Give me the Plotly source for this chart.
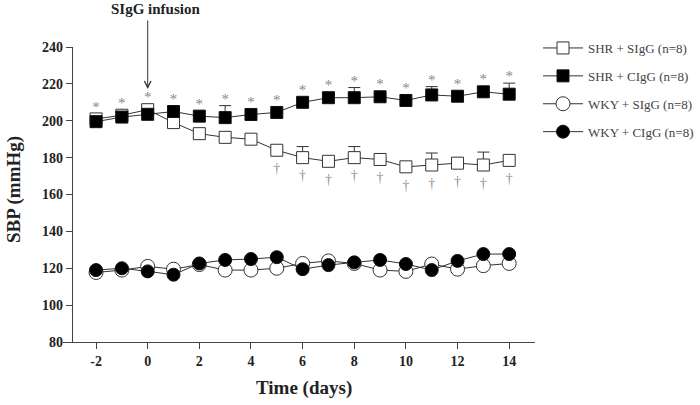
import plotly.graph_objects as go

days = list(range(-2, 15))
shr_sigg = [201, 203, 206, 199, 193, 191, 190, 184, 180, 178, 180, 179, 175, 176, 177, 176, 178.5]
shr_sigg_err = [0, 0, 0, 0, 0, 0, 0, 0, 6, 0, 6, 0, 0, 6.5, 0, 7, 0]
shr_cigg = [199.5, 202, 203.5, 205, 202.5, 201.7, 203.4, 204.5, 210, 212.5, 212.5, 213, 211, 214, 213.3, 215.7, 214.4]
shr_cigg_err = [0, 0, 0, 0, 0, 6.5, 0, 0, 0, 0, 5.5, 0, 0, 4.5, 0, 0, 6]
wky_sigg = [117.7, 119, 121, 119.5, 122, 119, 119, 120, 122.6, 124, 122.6, 119, 118.3, 122.3, 119.5, 121.4, 122.6]
wky_cigg = [119, 120, 118.3, 116.5, 122.6, 124.5, 125, 126, 119.5, 121.7, 123.2, 124.5, 122.3, 119, 124, 127.7, 127.7]
star_days = days
dagger_days = list(range(5, 15))
names = ["SHR + SIgG (n=8)", "SHR + CIgG (n=8)", "WKY + SIgG (n=8)", "WKY + CIgG (n=8)"]
xticks = list(range(-2, 15, 2))
yticks = list(range(80, 241, 20))

FONT = "Liberation Serif"
LINE = "#333333"
XMIN, XMAX = -3.28, 15.0
YAX_X = -2.93
PW, PH = 472, 295
L, T = 63, 47
R = 700 - L - PW
B = 405 - T - PH

def px_x(p):  # target pixel -> paper x
    return (p - L) / PW

def px_y(p):  # target pixel -> paper y
    return (T + PH - p) / PH

fig = go.Figure()

def add_series(y, err, name, symbol, fill, size, group):
    kw = {}
    if err is not None:
        kw["error_y"] = dict(type="data", array=err, symmetric=False, arrayminus=[0] * len(err),
                             color=LINE, thickness=1, width=6)
    fig.add_trace(go.Scatter(
        x=days, y=y, name=name, mode="lines+markers", legendgroup=group,
        line=dict(color=LINE, width=1),
        marker=dict(symbol=symbol, size=size, color=fill,
                    line=dict(color=LINE if fill == "white" else "#111", width=1)),
        **kw))

add_series(shr_sigg, shr_sigg_err, names[0], "square", "white", 12, "g1")
add_series(shr_cigg, shr_cigg_err, names[1], "square", "black", 12, "g2")
add_series(wky_sigg, None, names[2], "circle", "white", 14, "g3")
add_series(wky_cigg, None, names[3], "circle", "black", 13, "g4")

# significance symbols
star_y = []
for i, d in enumerate(days):
    base = max(shr_sigg[i], shr_cigg[i])
    star_y.append(max(base + 6, shr_cigg[i] + shr_cigg_err[i] + 3))
fig.add_trace(go.Scatter(x=star_days, y=star_y, mode="text", text=["*"] * len(star_days),
                         textfont=dict(family=FONT, size=15, color="#888888"), showlegend=False,
                         hoverinfo="skip"))
dag_y = [shr_sigg[days.index(d)] - 10.5 for d in dagger_days]
fig.add_trace(go.Scatter(x=dagger_days, y=dag_y, mode="text", text=["†"] * len(dagger_days),
                         textfont=dict(family=FONT, size=14, color="#909090"), showlegend=False,
                         hoverinfo="skip"))

# y-axis line extension below x axis
fig.add_shape(type="line", xref="x", yref="y", x0=YAX_X, x1=YAX_X, y0=80, y1=76.3,
              line=dict(color="#444", width=1.3))

pxu = PH / 160.0
tip_val = 240 - (89 - 47) / pxu
fig.add_annotation(x=0, y=tip_val, xref="x", yref="y", text="", showarrow=True,
                   ax=0, ay=-70, arrowhead=5, arrowsize=1.3, arrowwidth=1, arrowcolor="#333",
                   standoff=0)
fig.add_annotation(x=px_x(155), y=px_y(9), xref="paper", yref="paper",
                   xanchor="center", yanchor="middle",
                   text="<b>SIgG infusion</b>", showarrow=False,
                   font=dict(family=FONT, size=15, color="#222"))
fig.add_annotation(x=px_x(304), y=px_y(388), xref="paper", yref="paper",
                   xanchor="center", yanchor="middle",
                   text="<b>Time (days)</b>", showarrow=False,
                   font=dict(family=FONT, size=19, color="#222"))
fig.add_annotation(x=px_x(14), y=px_y(190), xref="paper", yref="paper",
                   xanchor="center", yanchor="middle",
                   text="<b>SBP (mmHg)</b>", showarrow=False, textangle=-90,
                   font=dict(family=FONT, size=19, color="#222"))

fig.update_layout(
    width=700, height=405,
    margin=dict(l=L, r=R, t=T, b=B, autoexpand=False),
    paper_bgcolor="white", plot_bgcolor="white",
    font=dict(family=FONT, color="#222"),
    xaxis=dict(range=[XMIN, XMAX], showgrid=False, zeroline=False, showline=True,
               linecolor="#444", linewidth=1.3, ticks="outside", ticklen=6, tickcolor="#444",
               tickwidth=1.3, tickvals=xticks, ticktext=[str(v) for v in xticks],
               tickfont=dict(family=FONT, size=14, color="#222", weight="bold"), anchor="y",
               automargin=False),
    yaxis=dict(range=[80, 240], showgrid=False, zeroline=False, showline=True,
               linecolor="#444", linewidth=1.3, ticks="outside", ticklen=6, tickcolor="#444",
               tickwidth=1.3, tickvals=yticks, ticktext=[str(v) for v in yticks],
               tickfont=dict(family=FONT, size=14, color="#222", weight="bold"),
               anchor="free", position=(YAX_X - XMIN) / (XMAX - XMIN), automargin=False),
    legend=dict(x=px_x(538), y=px_y(33), xanchor="left", yanchor="top",
                traceorder="grouped", tracegroupgap=8, itemwidth=40, bgcolor="rgba(0,0,0,0)",
                font=dict(family=FONT, size=13, color="#444")),
    showlegend=True,
)

fig.write_html("out.html", config={"displayModeBar": False},
               post_script="document.body.style.margin='0px';")
